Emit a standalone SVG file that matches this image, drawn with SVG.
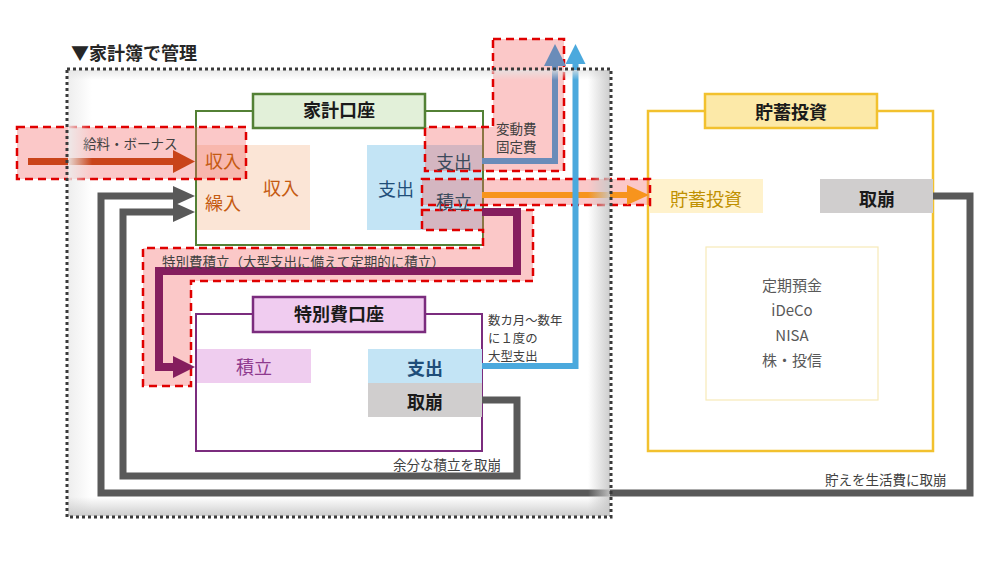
<svg xmlns="http://www.w3.org/2000/svg" width="1000" height="563" viewBox="0 0 1000 563">
<style>
text{font-family:"Noto Sans CJK JP","Noto Sans",sans-serif;}
.t18{font-size:18px;}
.b{font-weight:bold;}
.small{font-size:13.5px;fill:#404040;}
.sm2{font-size:12.4px;fill:#404040;}
.mid{text-anchor:middle;}
.hl{fill:#f46060;fill-opacity:0.35;stroke:#e00000;stroke-width:2.5;stroke-dasharray:8 5;}
.ln{fill:none;stroke-linejoin:miter;stroke-linecap:butt;}
</style>
<defs>
<marker id="aRed" markerUnits="userSpaceOnUse" markerWidth="22" markerHeight="23" refX="1" refY="11.5" orient="auto" viewBox="0 0 22 23"><path d="M0,0 L22,11.5 L0,23 Z" fill="#c9441a"/></marker>
<marker id="aGrey" markerUnits="userSpaceOnUse" markerWidth="22" markerHeight="20" refX="1" refY="10" orient="auto" viewBox="0 0 22 20"><path d="M0,0 L22,10 L0,20 Z" fill="#595959"/></marker>
<marker id="aPurple" markerUnits="userSpaceOnUse" markerWidth="22" markerHeight="22" refX="1" refY="11" orient="auto" viewBox="0 0 22 22"><path d="M0,0 L22,11 L0,22 Z" fill="#851e5e"/></marker>
<marker id="aOrange" markerUnits="userSpaceOnUse" markerWidth="22" markerHeight="20" refX="1" refY="10" orient="auto" viewBox="0 0 22 20"><path d="M0,0 L22,10 L0,20 Z" fill="#f7941d"/></marker>
<marker id="aSteel" markerUnits="userSpaceOnUse" markerWidth="22" markerHeight="22" refX="1" refY="11" orient="auto" viewBox="0 0 22 22"><path d="M0,0 L22,11 L0,22 Z" fill="#6a8cb9"/></marker>
<marker id="aSky" markerUnits="userSpaceOnUse" markerWidth="20" markerHeight="20" refX="1" refY="10" orient="auto" viewBox="0 0 20 20"><path d="M0,0 L20,10 L0,20 Z" fill="#4ba9dd"/></marker>
<linearGradient id="shR" x1="0" y1="0" x2="1" y2="0"><stop offset="0" stop-color="#c8c8c8" stop-opacity="0"/><stop offset="1" stop-color="#c8c8c8" stop-opacity="0.9"/></linearGradient>
<linearGradient id="shB" x1="0" y1="0" x2="0" y2="1"><stop offset="0" stop-color="#c8c8c8" stop-opacity="0"/><stop offset="1" stop-color="#c8c8c8" stop-opacity="0.9"/></linearGradient>
<linearGradient id="shL" x1="0" y1="0" x2="1" y2="0"><stop offset="0" stop-color="#ececec" stop-opacity="0.9"/><stop offset="1" stop-color="#ececec" stop-opacity="0"/></linearGradient>
<linearGradient id="shT" x1="0" y1="0" x2="0" y2="1"><stop offset="0" stop-color="#e4e4e4" stop-opacity="0.8"/><stop offset="1" stop-color="#e4e4e4" stop-opacity="0"/></linearGradient>
</defs>
<rect x="0" y="0" width="1000" height="563" fill="#ffffff"/>

<g id="title"><text x="71" y="60" font-size="18" class="b" fill="#262626">▼家計簿で管理</text></g>

<g id="kakei-account">
<rect x="196" y="111" width="287" height="134" fill="#ffffff"/>
<rect x="197" y="145" width="113" height="85" fill="#fbe5d6"/>
<rect x="367" y="145" width="116" height="85" fill="#c3e4f5"/>
<rect x="196" y="111" width="287" height="134" fill="none" stroke="#538135" stroke-width="2"/>
<rect x="253" y="94" width="172" height="34" fill="#e2f0d9" stroke="#538135" stroke-width="2.5"/>
</g>

<g id="tokubetsu-account">
<rect x="196" y="314" width="286" height="137" fill="#ffffff" stroke="#7b2c7e" stroke-width="2"/>
<rect x="197" y="349" width="114" height="34" fill="#efcdef"/>
<rect x="368" y="349" width="114" height="34" fill="#c3e4f5"/>
<rect x="368" y="383" width="114" height="34" fill="#d0cece"/>
<rect x="253" y="297" width="172" height="35" fill="#f0ccf0" stroke="#7b2c7e" stroke-width="2.5"/>
</g>

<g id="chochiku">
<rect x="648" y="111" width="285" height="340" fill="#ffffff" stroke="#f2c12e" stroke-width="2.5"/>
<rect x="650" y="179" width="113" height="34" fill="#fff2cc"/>
<rect x="820" y="179" width="113" height="34" fill="#d0cece"/>
<rect x="706" y="247" width="172" height="153" fill="none" stroke="#f7eab8" stroke-width="1.2"/>
<rect x="705" y="94" width="172" height="34" fill="#fce9a8" stroke="#f2c12e" stroke-width="2.5"/>
</g>

<g id="highlights">
<rect class="hl" x="17" y="127" width="229" height="52"/>
<path class="hl" d="M493,39 H564 V171 H425 V127 H493 Z"/>
<rect class="hl" x="422" y="179" width="228" height="26"/>
<path class="hl" d="M422,210 H533 V281 H191 V386 H143 V248 H483 V230 H422 Z"/>
</g>

<g id="connectors">
<path class="ln" d="M28,161.5 H174" stroke="#c9441a" stroke-width="7" marker-end="url(#aRed)"/>
<path class="ln" d="M933,196 H970 V493 H101 V196 H174" stroke="#595959" stroke-width="7" marker-end="url(#aGrey)"/>
<path class="ln" d="M482,400 H517 V476 H123 V212 H174" stroke="#595959" stroke-width="7" marker-end="url(#aGrey)"/>
<path class="ln" d="M482,212 H517 V271 H159 V367 H174" stroke="#851e5e" stroke-width="8" marker-end="url(#aPurple)"/>
<path class="ln" d="M482,195 H628" stroke="#f7941d" stroke-width="6" marker-end="url(#aOrange)"/>
<path class="ln" d="M482,161 H555 V65" stroke="#6a8cb9" stroke-width="6" marker-end="url(#aSteel)"/>
<path class="ln" d="M482,366 H575.5 V63" stroke="#4ba9dd" stroke-width="6" marker-end="url(#aSky)"/>
</g>

<g id="labels">
<text x="83" y="149" class="small">給料・ボーナス</text>
<text x="223" y="168" class="t18 mid" fill="#c55a11">収入</text>
<text x="223" y="210" class="t18 mid" fill="#c55a11">繰入</text>
<text x="281" y="195" class="t18 mid" fill="#c55a11">収入</text>
<text x="339" y="117" class="t18 mid b" fill="#1a1a1a">家計口座</text>
<text x="396" y="196" class="t18 mid" fill="#1f4e79">支出</text>
<text x="454" y="169" class="t18 mid" fill="#3b4a5c">支出</text>
<text x="454" y="209" class="t18 mid" fill="#3b4a5c">積立</text>
<text x="496" y="134" class="small">変動費</text>
<text x="496" y="152" class="small">固定費</text>
<text x="162" y="267" class="small">特別費積立（大型支出に備えて定期的に積立）</text>
<text x="339" y="321" class="t18 mid b" fill="#1a1a1a">特別費口座</text>
<text x="254" y="374" class="t18 mid" fill="#8e3a8e">積立</text>
<text x="425" y="375" class="t18 mid b" fill="#1f4e79">支出</text>
<text x="425" y="409" class="t18 mid b" fill="#1a1a1a">取崩</text>
<text x="488" y="325" class="sm2">数カ月～数年</text>
<text x="488" y="343" class="sm2">に１度の</text>
<text x="488" y="361" class="sm2">大型支出</text>
<text x="393" y="470" class="small">余分な積立を取崩</text>
<text x="825" y="485" class="small">貯えを生活費に取崩</text>
<text x="791" y="119" class="t18 mid b" fill="#1a1a1a">貯蓄投資</text>
<text x="706" y="206" class="t18 mid" fill="#bf9000">貯蓄投資</text>
<text x="877" y="206" class="t18 mid b" fill="#1a1a1a">取崩</text>
<text x="792" y="291" font-size="15" class="mid" fill="#595959">定期預金</text>
<text x="792" y="316" font-size="15" class="mid" fill="#595959">iDeCo</text>
<text x="792" y="341" font-size="15" class="mid" fill="#595959">NISA</text>
<text x="792" y="366" font-size="15" class="mid" fill="#595959">株・投信</text>
</g>

<g id="outer-frame">
<rect x="68" y="70" width="24" height="446" fill="url(#shL)"/>
<rect x="68" y="70" width="542" height="10" fill="url(#shT)"/>
<rect x="588" y="70" width="22" height="446" fill="url(#shR)"/>
<rect x="68" y="497" width="542" height="19" fill="url(#shB)"/>
<rect x="67" y="69" width="544" height="448" fill="none" stroke="#3a3a3a" stroke-width="3" stroke-dasharray="3 3"/>
</g>
</svg>
